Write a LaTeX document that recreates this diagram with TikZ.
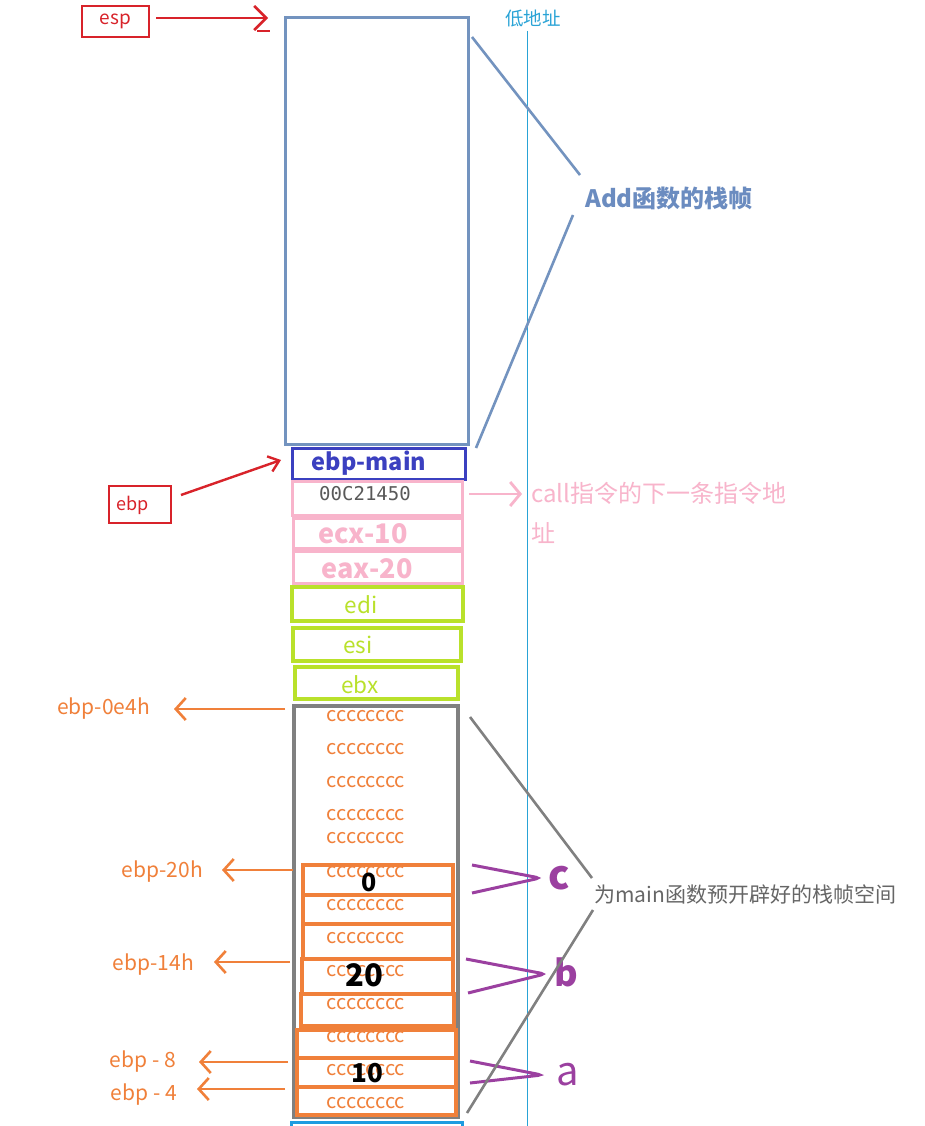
\documentclass[tikz,border=0pt]{standalone}
\usepackage{fontspec}
\setmainfont{Noto Sans CJK SC}
\newfontfamily\monof{DejaVu Sans Mono}
\usetikzlibrary{arrows.meta}
\newcommand\myfs[1]{\fontsize{#1}{#1}\selectfont}
\definecolor{cred}{HTML}{D8232A}
\definecolor{csteel}{HTML}{7393BF}
\definecolor{csteeltxt}{HTML}{6B8CC0}
\definecolor{ccyan}{HTML}{29A3D6}
\definecolor{cindigo}{HTML}{3B40C0}
\definecolor{cpink}{HTML}{F8B4CB}
\definecolor{clime}{HTML}{B9E12B}
\definecolor{cgray}{HTML}{808080}
\definecolor{corange}{HTML}{F0803A}
\definecolor{cpurple}{HTML}{9B40A0}
\definecolor{cblue}{HTML}{1E9CE0}
\tikzset{
  box/.style={draw, rectangle, inner sep=0pt, outer sep=0pt},
  barb/.style={-{Straight Barb[length=10pt,width=22pt,line width=2.6pt]}},
  cctext/.style={text=corange, font=\myfs{20}},
  olab/.style={text=corange, font=\myfs{21}, anchor=east, inner sep=0pt},
  oarrow/.style={draw=corange, line width=2.8pt, barb},
  brace/.style={draw=cpurple, line width=3pt, rounded corners=4pt},
  obox/.style={box, draw=corange, line width=3.4pt},
}
\begin{document}
\begin{tikzpicture}[x=1pt,y=-1pt]
\useasboundingbox[fill=white] (0,0) rectangle (925,1126);

% cyan vertical line
\coordinate (ctop) at (527.5,31);
\coordinate (cbot) at (527.5,1126);
\draw[ccyan, line width=1.4pt] (ctop) -- (cbot);
\node[text=ccyan, font=\myfs{18.5}, anchor=west, inner sep=0pt] (low) at (505,19) {低地址};

% esp
\node[box, draw=cred, line width=2.6pt, minimum width=67pt, minimum height=31pt, text=cred, font=\myfs{19}] (esp) at (115.5,21.5) {esp};
\coordinate (espT) at (268,18);
\draw[cred, line width=2.6pt, -{Straight Barb[length=12pt,width=24pt,line width=2.6pt]}] (esp.east |- espT) ++(7,0) -- (espT);
\coordinate (u1) at (257,31); \coordinate (u2) at (270,31);
\draw[cred, line width=1.2pt] (u1) -- (u2);

% Add frame
\node[box, draw=csteel, line width=3pt, minimum width=183pt, minimum height=426pt] (addf) at (376.5,231) {};
\node[text=csteeltxt, font=\bfseries\myfs{24}, anchor=west, inner sep=0pt] (addl) at (585,198) {Add函数的栈帧};
\coordinate (a1) at (472,37); \coordinate (a2) at (580,175);
\coordinate (a3) at (573,215); \coordinate (a4) at (476,448);
\draw[csteel, line width=2.6pt] (a1) -- (a2);
\draw[csteel, line width=2.6pt] (a3) -- (a4);

% ebp-main
\node[box, draw=cindigo, line width=3pt, minimum width=173pt, minimum height=31pt] (ebpm) at (378.5,463.5) {};
\node[text=cindigo, font=\bfseries\myfs{23.5}] (ebpmt) at (369,463) {ebp-main};

% ebp
\node[box, draw=cred, line width=2.6pt, minimum width=62pt, minimum height=37pt] (ebp) at (140,504.5) {};
\node[text=cred, font=\myfs{18}] (ebpt) at (133,505) {ebp};
\coordinate (eb1) at (181,495); \coordinate (eb2) at (281,460);
\draw[cred, line width=2.4pt, -{Straight Barb[length=10pt,width=16pt,line width=2.4pt]}] (eb1) -- (eb2);

% return address
\node[box, draw=cpink, line width=3pt, minimum width=170pt, minimum height=34pt] (ret) at (377,498) {};
\node[text=black!65, font=\monof\myfs{19}] (rett) at (365,494) {00C21450};
\coordinate (p1) at (469,494); \coordinate (p2) at (522,494);
\draw[cpink, line width=2.8pt, -{Straight Barb[length=10pt,width=24pt,line width=2.8pt]}] (p1) -- (p2);
\node[text=cpink, font=\myfs{24}, anchor=west, inner sep=0pt] (callt) at (531,493) {call指令的下一条指令地};
\node[text=cpink, font=\myfs{24}, anchor=west, inner sep=0pt] (callt2) at (531,533) {址};

% ecx, eax
\node[box, draw=cpink, line width=3pt, minimum width=169pt, minimum height=30pt] (ecx) at (377.5,533) {};
\node[text=cpink, font=\bfseries\myfs{27}] (ecxt) at (363,534) {ecx-10};
\node[box, draw=cpink, line width=3pt, minimum width=169pt, minimum height=32pt] (eax) at (377.5,567) {};
\node[text=cpink, font=\bfseries\myfs{27}] (eaxt) at (367,569) {eax-20};

% edi esi ebx
\node[box, draw=clime, line width=3.4pt, minimum width=171pt, minimum height=34pt] (edi) at (377.5,604) {};
\node[text=clime, font=\myfs{22.5}] (edit) at (361,605) {edi};
\node[box, draw=clime, line width=3.4pt, minimum width=168pt, minimum height=33pt] (esi) at (377,644.5) {};
\node[text=clime, font=\myfs{22.5}] (esit) at (358,645) {esi};
\node[box, draw=clime, line width=3.4pt, minimum width=163pt, minimum height=32pt] (ebx) at (376.5,683) {};
\node[text=clime, font=\myfs{22.5}] (ebxt) at (360,685) {ebx};

% gray frame
\node[box, draw=cgray, line width=3.6pt, minimum width=164pt, minimum height=411pt] (gf) at (376,911.5) {};

% orange boxes
\node[obox, minimum width=150pt, minimum height=30pt] (o1) at (378,880) {};
\node[obox, minimum width=150pt, minimum height=29pt] (o2) at (378,909.5) {};
\node[obox, minimum width=150pt, minimum height=35pt] (o3) at (378,941.5) {};
\node[obox, minimum width=151pt, minimum height=35pt] (o4) at (377.5,976.5) {};
\node[obox, minimum width=153pt, minimum height=32pt] (o5) at (377.5,1010) {};
\node[obox, minimum width=159pt, minimum height=28pt] (o6) at (376.5,1044) {};
\node[obox, minimum width=159pt, minimum height=29pt] (o7) at (376.5,1072.5) {};
\node[obox, minimum width=159pt, minimum height=28pt] (o8) at (376.5,1101) {};

% cccccccc
\foreach \yy [count=\i] in {716,749,782,815,838,872,905,938,971,1004,1037,1070,1103}
  \node[cctext] (cc\i) at (366,\yy) {cccccccc};

% values
\node[font=\bfseries\myfs{25}] (v0) at (369,882) {0};
\node[font=\bfseries\myfs{31}] (v20) at (364,975) {20};
\node[font=\bfseries\myfs{26}] (v10) at (367,1073) {10};

% bottom cyan box
\node[box, draw=cblue, line width=3pt, minimum width=171pt, minimum height=20pt] (bb) at (376.5,1132) {};

% orange arrows & labels
\coordinate (s1) at (285,709); \coordinate (t1) at (174,709);
\draw[oarrow] (s1) -- (t1);
\node[olab] (l1) at (150,709) {ebp-0e4h};
\coordinate (s2) at (293,870); \coordinate (t2) at (222,870);
\draw[oarrow] (s2) -- (t2);
\node[olab] (l2) at (203,872) {ebp-20h};
\coordinate (s3) at (290,962); \coordinate (t3) at (214,962);
\draw[oarrow] (s3) -- (t3);
\node[olab] (l3) at (194,965) {ebp-14h};
\coordinate (s4) at (288,1062); \coordinate (t4) at (199,1062);
\draw[oarrow] (s4) -- (t4);
\node[olab] (l4) at (176,1062) {ebp - 8};
\coordinate (s5) at (285,1089); \coordinate (t5) at (197,1089);
\draw[oarrow] (s5) -- (t5);
\node[olab] (l5) at (177,1095) {ebp - 4};

% purple braces
\coordinate (c1) at (472,865); \coordinate (c2) at (540,878); \coordinate (c3) at (472,893);
\draw[brace] (c1) -- (c2) -- (c3);
\node[text=cpurple, font=\bfseries\myfs{40}] (lc) at (559,878) {c};
\coordinate (b1) at (466,959); \coordinate (b2) at (545,974); \coordinate (b3) at (468,993);
\draw[brace] (b1) -- (b2) -- (b3);
\node[text=cpurple, font=\bfseries\myfs{36}] (lb) at (566,972) {b};
\coordinate (d1) at (470,1061); \coordinate (d2) at (542,1075); \coordinate (d3) at (470,1083);
\draw[brace] (d1) -- (d2) -- (d3);
\node[text=cpurple, font=\myfs{40}] (la) at (568,1075) {a};

% gray lines and label
\coordinate (g1) at (470,717); \coordinate (g2) at (592,878);
\coordinate (g3) at (593,910); \coordinate (g4) at (467,1113);
\draw[cgray, line width=2.6pt] (g1) -- (g2);
\draw[cgray, line width=2.6pt] (g3) -- (g4);
\node[text=black!60, font=\myfs{21}, anchor=west, inner sep=0pt] (ml) at (594,894) {为main函数预开辟好的栈帧空间};
\end{tikzpicture}
\end{document}
